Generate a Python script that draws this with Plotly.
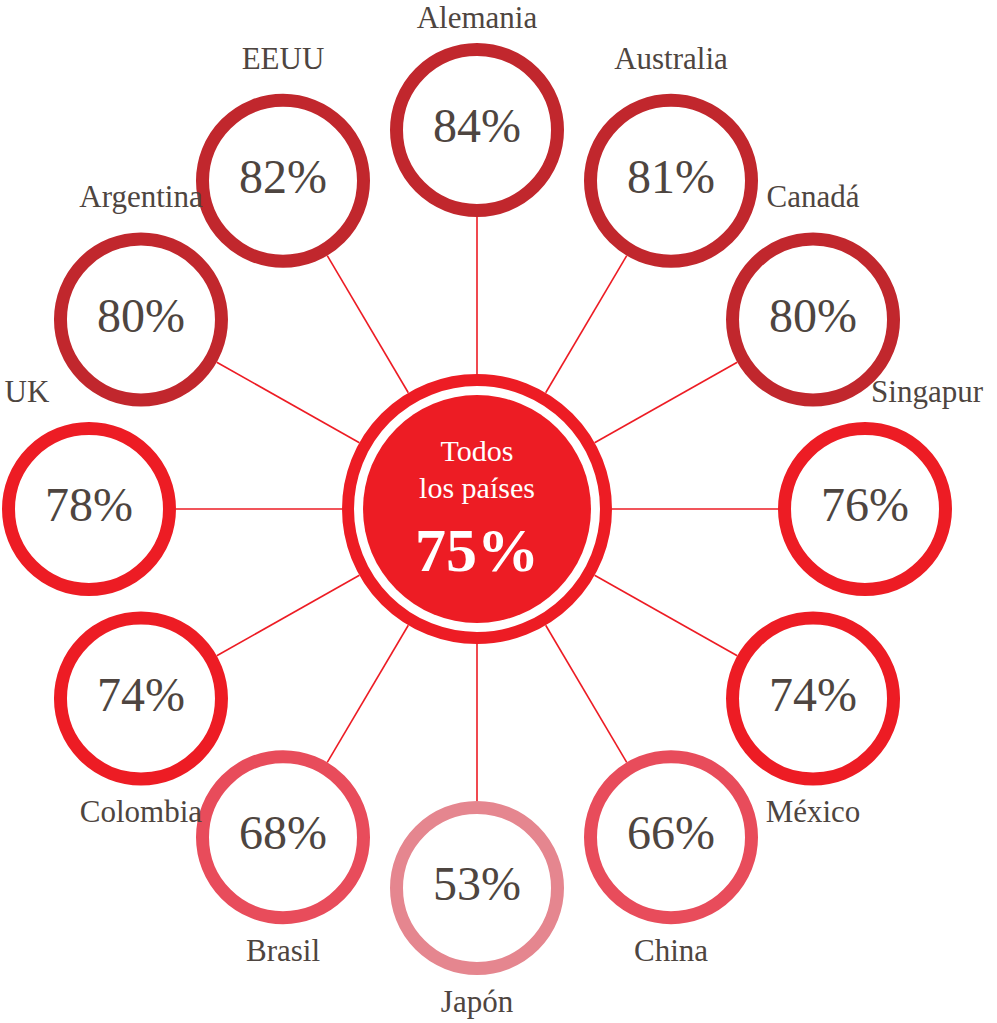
import math
import plotly.graph_objects as go

# survey share per country, clockwise from the top
countries = ["Alemania", "Australia", "Canadá", "Singapur", "México", "China",
             "Japón", "Brasil", "Colombia", "UK", "Argentina", "EEUU"]
values = [84, 81, 80, 76, 74, 66, 53, 68, 74, 78, 80, 82]

overall_lines = ["Todos", "los países"]
overall_value = 75

W, H = 997, 1023
CX, CY = 477, 509
ORBIT_X, ORBIT_Y = 388, 379
RING_R = 80.5      # centre line of the small rings
RING_W = 13
HUB_RING_R = 129
HUB_RING_W = 12
HUB_FILL_R = 114

TEXT = "#4E4540"
RED = "#ED1C24"
FONT = "Liberation Serif"


def ring_color(v):
    if v >= 80:
        return "#C1272D"
    if v >= 70:
        return "#ED1C24"
    if v >= 60:
        return "#E84C5B"
    return "#E5868F"


n = len(countries)
xs, ys, ang = [], [], []
for i in range(n):
    a = math.radians(i * 360 / n)
    ang.append(a)
    xs.append(CX + ORBIT_X * math.sin(a))
    ys.append(CY - ORBIT_Y * math.cos(a))

fig = go.Figure()

# spokes from the hub edge to each ring edge
r0 = HUB_RING_R + HUB_RING_W / 2
for x, y, a in zip(xs, ys, ang):
    d = math.hypot(x - CX, y - CY)
    r1 = d - RING_R - RING_W / 2
    ux, uy = (x - CX) / d, (y - CY) / d
    fig.add_trace(go.Scatter(
        x=[CX + r0 * ux, CX + r1 * ux],
        y=[CY + r0 * uy, CY + r1 * uy],
        mode="lines", line=dict(color=RED, width=1.6),
        hoverinfo="skip", showlegend=False))

shapes = []
for x, y, v in zip(xs, ys, values):
    shapes.append(dict(type="circle", xref="x", yref="y", layer="below",
                       x0=x - RING_R, x1=x + RING_R, y0=y - RING_R, y1=y + RING_R,
                       line=dict(color=ring_color(v), width=RING_W),
                       fillcolor="white"))
shapes.append(dict(type="circle", xref="x", yref="y", layer="below",
                   x0=CX - HUB_RING_R, x1=CX + HUB_RING_R,
                   y0=CY - HUB_RING_R, y1=CY + HUB_RING_R,
                   line=dict(color=RED, width=HUB_RING_W), fillcolor="white"))
shapes.append(dict(type="circle", xref="x", yref="y", layer="below",
                   x0=CX - HUB_FILL_R, x1=CX + HUB_FILL_R,
                   y0=CY - HUB_FILL_R, y1=CY + HUB_FILL_R,
                   line=dict(width=0), fillcolor=RED))

# values inside the rings
fig.add_trace(go.Scatter(
    x=xs, y=ys, mode="text", text=[f"{v}%" for v in values],
    textposition="middle center",
    textfont=dict(family=FONT, size=48, color=TEXT),
    hoverinfo="skip", showlegend=False))

# country names: above for the upper half, below for the lower half,
# beside-and-above for the two horizontal ones
lx, ly = [], []
for x, y, a in zip(xs, ys, ang):
    c = math.cos(a)
    if c > 0.1:
        lx.append(x)
        ly.append(max(y - 120, 20))   # keep the top label inside the page
    elif c < -0.1:
        lx.append(x)
        ly.append(y + 116)
    else:
        lx.append(x + 62 * math.copysign(1, math.sin(a)))
        ly.append(y - 115)
fig.add_trace(go.Scatter(
    x=lx, y=ly, mode="text", text=countries, textposition="middle center",
    textfont=dict(family=FONT, size=31, color=TEXT),
    hoverinfo="skip", showlegend=False))

# hub text
fig.add_trace(go.Scatter(
    x=[CX, CX], y=[CY - 56, CY - 19], mode="text", text=overall_lines,
    textposition="middle center",
    textfont=dict(family=FONT, size=30, color="white"),
    hoverinfo="skip", showlegend=False))
fig.add_trace(go.Scatter(
    x=[CX], y=[CY + 46], mode="text", text=[f"<b>{overall_value}%</b>"],
    textposition="middle center",
    textfont=dict(family=FONT, size=62, color="white"),
    hoverinfo="skip", showlegend=False))

fig.update_layout(
    width=W, height=H, autosize=False,
    margin=dict(l=0, r=0, t=0, b=0),
    paper_bgcolor="white", plot_bgcolor="white",
    shapes=shapes,
    xaxis=dict(range=[0, W], visible=False, fixedrange=True),
    yaxis=dict(range=[H, 0], visible=False, fixedrange=True),
)

fig.write_html("out.html", config={"displayModeBar": False},
               post_script="document.body.style.margin='0';")
